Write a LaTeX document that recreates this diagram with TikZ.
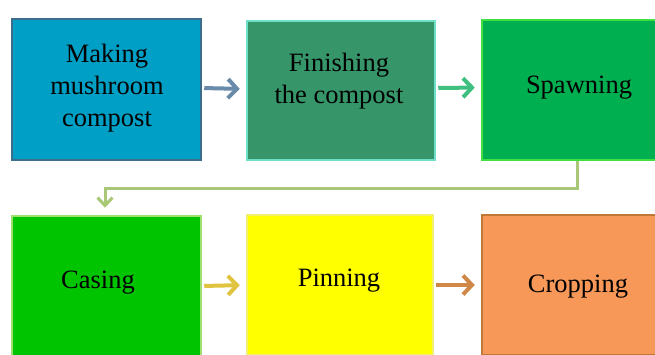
\documentclass[tikz,border=0pt]{standalone}
\usepackage{fontspec}
\setmainfont{Liberation Serif}
\usetikzlibrary{arrows.meta}

\definecolor{cMake}{HTML}{00A0C6}
\definecolor{cMakeB}{HTML}{3C6E8C}
\definecolor{cFin}{HTML}{36966A}
\definecolor{cFinB}{HTML}{6FE0C8}
\definecolor{cSpawn}{HTML}{00AF50}
\definecolor{cSpawnB}{HTML}{40E040}
\definecolor{cCase}{HTML}{00C400}
\definecolor{cCaseB}{HTML}{A0E070}
\definecolor{cPin}{HTML}{FFFF00}
\definecolor{cPinB}{HTML}{F0F070}
\definecolor{cCrop}{HTML}{F79858}
\definecolor{cCropB}{HTML}{C07838}
\definecolor{aOne}{HTML}{6A8AAA}
\definecolor{aTwo}{HTML}{40C080}
\definecolor{aTurn}{HTML}{A8C878}
\definecolor{aFour}{HTML}{E0C440}
\definecolor{aFive}{HTML}{D08848}

\tikzset{
  stagebox/.style={draw, line width=2.5pt, rectangle, inner sep=0pt},
  stagelabel/.style={font=\fontsize{26.5}{32}\selectfont, align=center, text=black, inner sep=0pt},
  flow/.style={line width=4pt, -{Straight Barb[length=9pt,width=19pt]}, shorten <=2pt, shorten >=6pt},
}

\begin{document}
\begin{tikzpicture}[x=1pt,y=-1pt]
  \clip (0,0) rectangle (655,354);
  \fill[white] (0,0) rectangle (655,354);

  % top row
  \node[stagebox, fill=cMake, draw=cMakeB, minimum width=189pt, minimum height=141pt] (make) at (106.5,89.5) {};
  \node[stagebox, fill=cFin, draw=cFinB, minimum width=188pt, minimum height=139pt] (fin) at (341,90.5) {};
  \node[stagebox, fill=cSpawn, draw=cSpawnB, minimum width=190pt, minimum height=140pt] (spawn) at (577,90) {};

  % bottom row
  \node[stagebox, fill=cCase, draw=cCaseB, minimum width=189pt, minimum height=140pt] (case) at (106.5,286) {};
  \node[stagebox, fill=cPin, draw=cPinB, minimum width=186pt, minimum height=140pt] (pin) at (340,285) {};
  \node[stagebox, fill=cCrop, draw=cCropB, minimum width=190pt, minimum height=140pt] (crop) at (577,285) {};

  % labels
  \node[stagelabel] (makeT) at (107,88) {Making\\mushroom\\compost};
  \node[stagelabel] (finT) at (339,81) {Finishing\\the compost};
  \node[stagelabel] (spawnT) at (579,88) {Spawning};
  \node[stagelabel] (caseT) at (98,283) {Casing};
  \node[stagelabel] (pinT) at (339,281) {Pinning};
  \node[stagelabel] (cropT) at (578,287) {Cropping};

  % connectors
  \draw[flow, draw=aOne] ([yshift=1.5pt]make.east) -- ([yshift=1.5pt]fin.west);
  \draw[flow, draw=aTwo] ([yshift=2.5pt]fin.east) -- ([yshift=2.5pt]spawn.west);
  \path (spawn.south) ++(0,27) coordinate (turnA);
  \coordinate (turnB) at (105,187);
  \draw[line width=3pt, draw=aTurn, -{Straight Barb[length=8pt,width=15pt]}, shorten >=7pt]
    (spawn.south) -- (turnA) -- (turnA -| turnB) -- (turnB) -- (turnB |- case.north);
  \draw[flow, draw=aFour] (case.east) -- (pin.west);
  \draw[flow, draw=aFive] (pin.east) -- (crop.west);
\end{tikzpicture}
\end{document}
